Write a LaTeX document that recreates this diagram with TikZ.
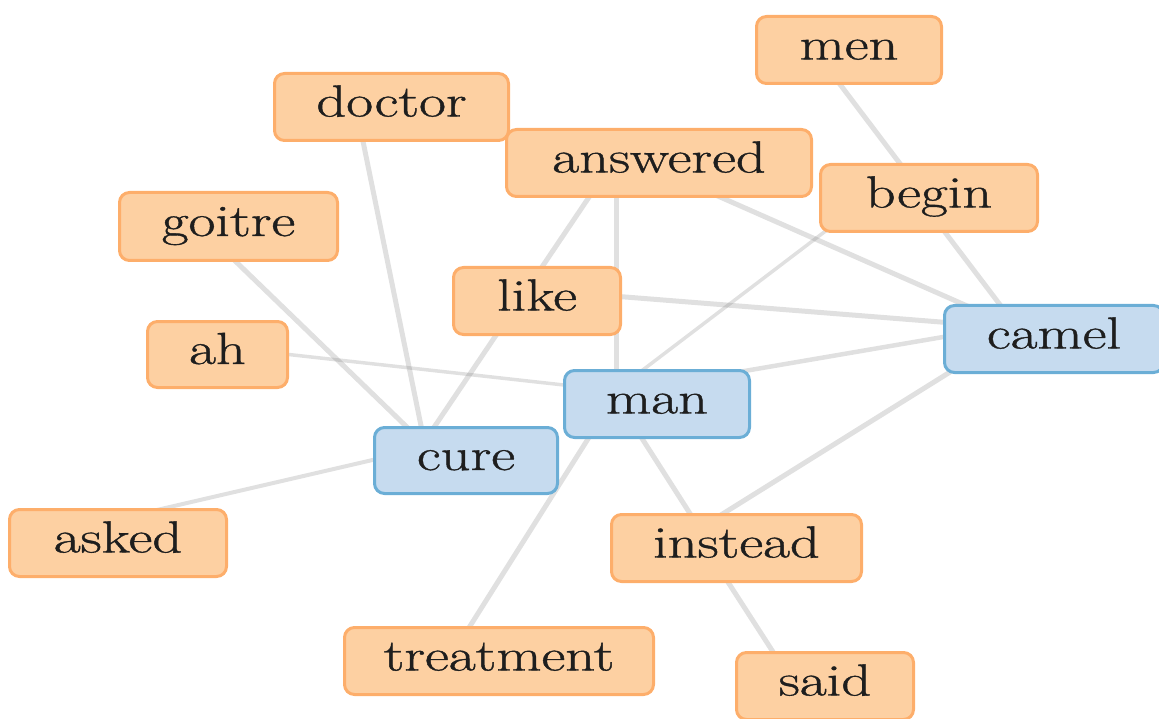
\documentclass[tikz,border=0pt]{standalone}
\usepackage{fontspec}
\usepackage{graphicx}
\usetikzlibrary{calc}
\newfontfamily\wordfont{Latin Modern Roman}[BoldFont=Latin Modern Roman, BoldFeatures={FakeBold=0.8}]
\definecolor{ofill}{HTML}{FDD0A2}
\definecolor{oline}{HTML}{FDAE6B}
\definecolor{bfill}{HTML}{C6DBEF}
\definecolor{bline}{HTML}{6BAED6}
\definecolor{txt}{HTML}{1E1E1E}
\newcommand{\stx}[1]{\scalebox{1.3}[1]{#1}}
\pgfdeclarelayer{bg}
\pgfsetlayers{bg,main}
\tikzset{
  word/.style={rounded corners=10pt, line width=3pt, inner sep=0pt,
    font=\fontsize{45}{50}\wordfont\bfseries, text=txt,
    text height=31pt, text depth=12pt, minimum height=67pt},
  onode/.style={word, fill=ofill, draw=oline},
  bnode/.style={word, fill=bfill, draw=bline},
  link/.style={draw=black!60, opacity=0.2, line width=5pt},
  thinlink/.style={link, line width=3.5pt}
}
\begin{document}
\begin{tikzpicture}[x=1pt,y=-1pt]
\useasboundingbox (0,0) rectangle (1159,719);
% nodes
\node[onode, minimum width=185pt] (men) at (849,50) {\stx{men}};
\node[onode, minimum width=234pt] (doctor) at (391.5,107) {\stx{doctor}};
\node[onode, minimum width=305pt] (answered) at (659,163) {\stx{answered}};
\node[onode, minimum width=217pt] (begin) at (929,198) {\stx{begin}};
\node[onode, minimum width=218pt, minimum height=68pt] (goitre) at (228.5,226.5) {\stx{goitre}};
\node[onode, minimum width=167pt] (like) at (537,301) {\stx{like}};
\node[bnode, minimum width=219pt] (camel) at (1054,339) {\stx{camel}};
\node[onode, minimum width=140pt, minimum height=66pt] (ah) at (217.5,354.5) {\stx{ah}};
\node[bnode, minimum width=185pt] (man) at (657,404) {\stx{man}};
\node[bnode, minimum width=183pt, minimum height=66pt] (cure) at (466,460.5) {\stx{cure}};
\node[onode, minimum width=217pt] (asked) at (118,543) {\stx{asked}};
\node[onode, minimum width=250pt] (instead) at (736.5,548) {\stx{instead}};
\node[onode, minimum width=309pt] (treatment) at (499,661) {\stx{treatment}};
\node[onode, minimum width=177pt] (said) at (825,686) {\stx{said}};
% connectors (behind nodes)
\begin{pgfonlayer}{bg}
\draw[link] ($(men)+(-35,0)$) -- ($(begin)+(-3,0)$);
\draw[link] ($(begin)+(-10,0)$) -- ($(camel)+(-28,0)$);
\draw[thinlink] ($(begin)+(-60,0)$) -- ($(man)+(-59,0)$);
\draw[link] ($(goitre)+(-29.5,-0.5)$) -- ($(cure)+(-25,-0.5)$);
\draw[link] ($(doctor)+(-35.5,0)$) -- ($(cure)+(-38,-0.5)$);
\draw[link] ($(answered)+(-47,0)$) -- ($(cure)+(-54,-0.5)$);
\draw[thinlink] ($(ah)+(12.5,-6.5)$) -- ($(man)+(-57,-15)$);
\draw[link] ($(answered)+(-43,0)$) -- ($(man)+(-41,0)$);
\draw[link] ($(answered)+(-16,0)$) -- ($(camel)+(-12,0)$);
\draw[link] ($(like)+(0,-11)$) -- ($(camel)+(0,-8)$);
\draw[link, line width=4.5pt] ($(man)+(0,-18)$) -- ($(camel)+(0,-21)$);
\draw[link] ($(camel)+(-51,0)$) -- ($(instead)+(-68.5,0)$);
\draw[link] ($(man)+(-37,0)$) -- ($(instead)+(-24.5,0)$);
\draw[link] ($(instead)+(-30.5,0)$) -- ($(said)+(-30,0)$);
\draw[link, line width=4pt] ($(asked)+(0,-24)$) -- ($(cure)+(-46,-11.5)$);
\draw[link] ($(man)+(-47,0)$) -- ($(treatment)+(-51,0)$);
\end{pgfonlayer}
\end{tikzpicture}
\end{document}
